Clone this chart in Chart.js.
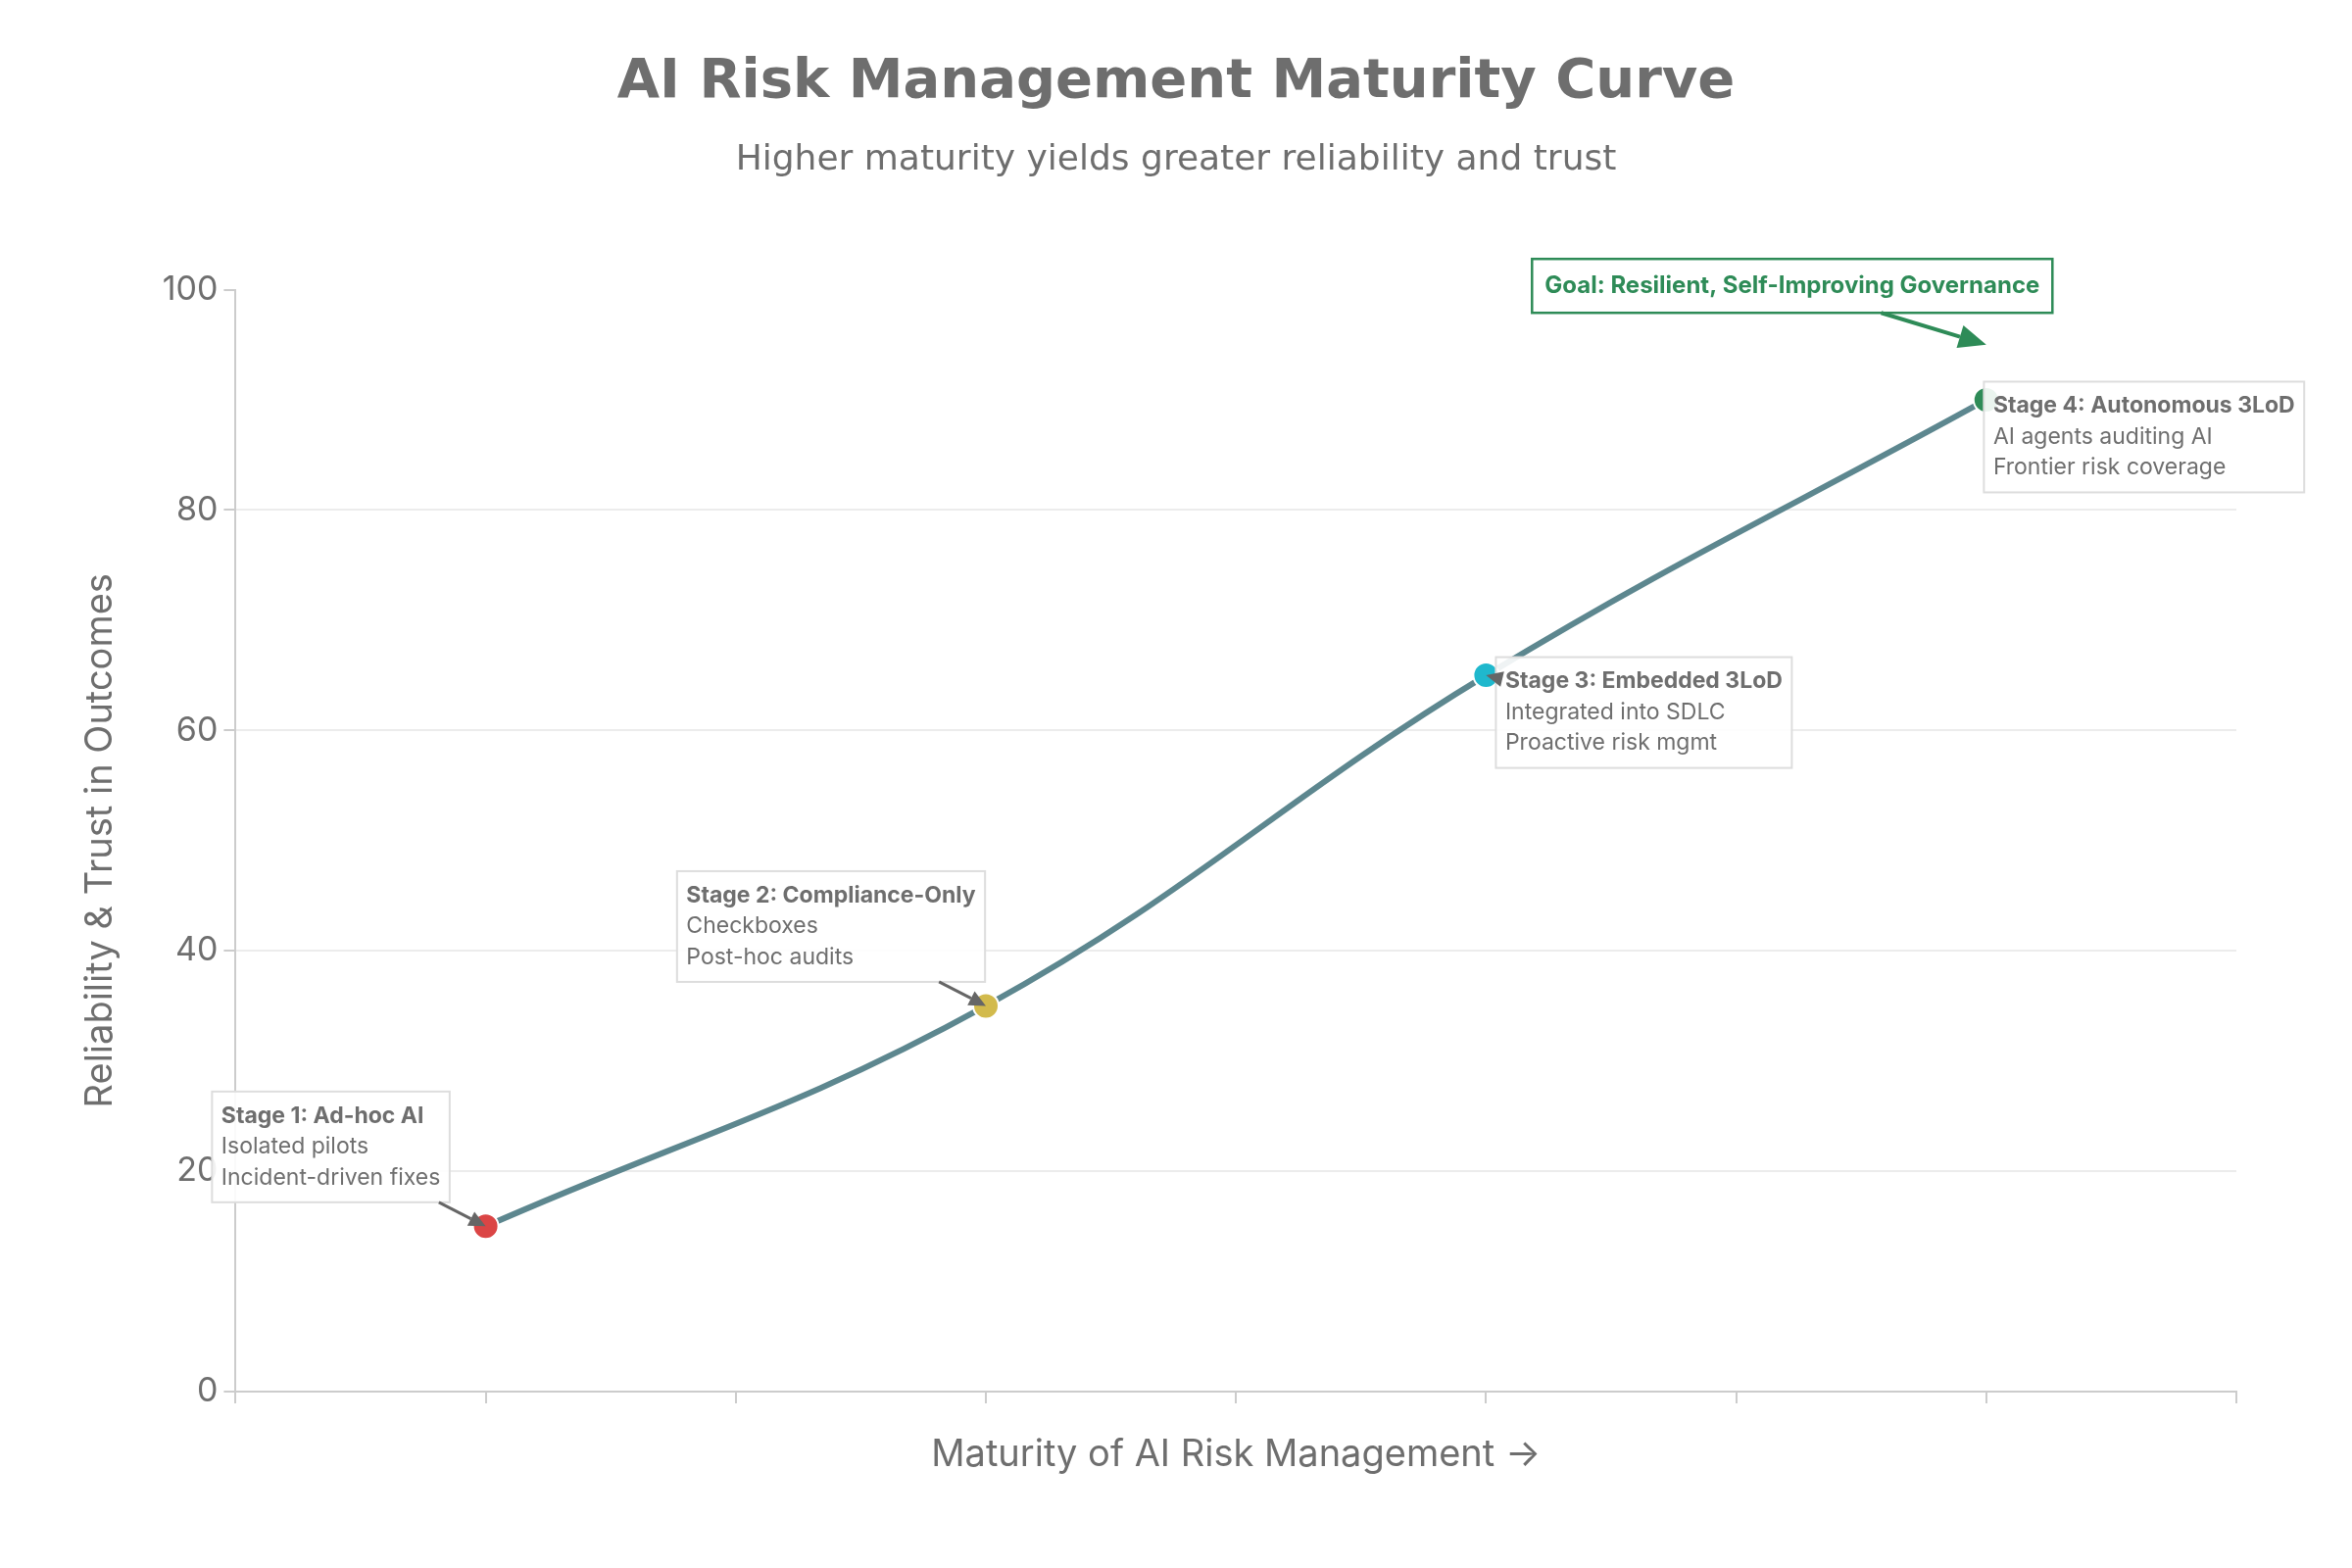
<!DOCTYPE html>
<html>
<head>
<meta charset="utf-8">
<title>AI Risk Management Maturity Curve</title>
<script src="https://cdn.jsdelivr.net/npm/chart.js@4.4.1/dist/chart.umd.min.js"></script>
<style>
    html, body { margin: 0; padding: 0; background: #ffffff; }
    #wrap { width: 2400px; height: 1600px; }
</style>
</head>
<body>
<div id="wrap"><canvas id="maturityChart" width="2400" height="1600"></canvas></div>
<script>
// DATA
const stageNames = ["Stage 1: Ad-hoc AI", "Stage 2: Compliance-Only", "Stage 3: Embedded 3LoD", "Stage 4: Autonomous 3LoD"];
const stageNotes = [
    ["Isolated pilots", "Incident-driven fixes"],
    ["Checkboxes", "Post-hoc audits"],
    ["Integrated into SDLC", "Proactive risk mgmt"],
    ["AI agents auditing AI", "Frontier risk coverage"]
];
const maturity = [1, 3, 5, 7];
const reliability = [15, 35, 65, 90];
const yTicks = [0, 20, 40, 60, 80, 100];
const goalLabel = "Goal: Resilient, Self-Improving Governance";
const goalTarget = [7, 95];

// STYLE
const TEXT = "#6e6e6e";
const FONT = "Inter";
const stageColors = ["#DB4545", "#D2BA4C", "#1FB8CD", "#2E8B57"];
const lineColor = "#5D878F";
const goalColor = "#2E8B57";
// label box centre relative to its point, in px
const labelOffsets = [[-158, -81], [-158, -81], [161, 38], [161, 38]];
const goalOffset = [-198, -60];

// ARROW FROM BOX EDGE TO TARGET
function drawArrow(ctx, cx, cy, hw, hh, tx, ty, color, lw, headLen, headHalf) {
    const dx = tx - cx, dy = ty - cy;
    if (Math.abs(dx) <= hw && Math.abs(dy) <= hh) return;
    const t = Math.min(hw / Math.max(Math.abs(dx), 1e-6), hh / Math.max(Math.abs(dy), 1e-6));
    const sx = cx + dx * t, sy = cy + dy * t;
    const len = Math.hypot(tx - sx, ty - sy);
    const ux = (tx - sx) / len, uy = (ty - sy) / len;
    const bx = tx - ux * headLen, by = ty - uy * headLen;

    ctx.strokeStyle = color;
    ctx.fillStyle = color;
    ctx.lineWidth = lw;
    if (len > headLen) {
        ctx.beginPath();
        ctx.moveTo(sx, sy);
        ctx.lineTo(bx, by);
        ctx.stroke();
    }
    ctx.beginPath();
    ctx.moveTo(tx, ty);
    ctx.lineTo(bx - uy * headHalf, by + ux * headHalf);
    ctx.lineTo(bx + uy * headHalf, by - ux * headHalf);
    ctx.closePath();
    ctx.fill();
}

// TITLES + ANNOTATIONS
const notesPlugin = {
    id: "stageNotes",
    afterDatasetsDraw(chart) {
        const { ctx, scales: { x, y } } = chart;
        ctx.save();

        maturity.forEach((mx, i) => {
            const px = x.getPixelForValue(mx);
            const py = y.getPixelForValue(reliability[i]);
            const lines = [stageNames[i], ...stageNotes[i]];

            ctx.font = `bold 23px ${FONT}`;
            let w = ctx.measureText(lines[0]).width;
            ctx.font = `23px ${FONT}`;
            lines.slice(1).forEach(t => { w = Math.max(w, ctx.measureText(t).width); });

            const bw = w + 19, bh = 113;
            const cx = px + labelOffsets[i][0], cy = py + labelOffsets[i][1];
            const left = cx - bw / 2, top = cy - bh / 2;

            ctx.fillStyle = "rgba(255,255,255,0.9)";
            ctx.fillRect(left, top, bw, bh);
            ctx.strokeStyle = "#dddddd";
            ctx.lineWidth = 2;
            ctx.strokeRect(left, top, bw, bh);

            drawArrow(ctx, cx, cy, bw / 2, bh / 2, px, py, "#666666", 3, 17, 8);

            ctx.textAlign = "left";
            ctx.textBaseline = "middle";
            ctx.fillStyle = TEXT;
            lines.forEach((t, k) => {
                ctx.font = (k === 0 ? "bold " : "") + `23px ${FONT}`;
                ctx.fillText(t, left + 9.5, cy + (k - 1) * 31.5);
            });
        });

        // goal callout
        const gx = x.getPixelForValue(goalTarget[0]);
        const gy = y.getPixelForValue(goalTarget[1]);
        ctx.font = `bold 24px ${FONT}`;
        const gw = ctx.measureText(goalLabel).width + 26, gh = 55;
        const gcx = gx + goalOffset[0], gcy = gy + goalOffset[1];
        ctx.fillStyle = "#ffffff";
        ctx.fillRect(gcx - gw / 2, gcy - gh / 2, gw, gh);
        ctx.strokeStyle = goalColor;
        ctx.lineWidth = 2.5;
        ctx.strokeRect(gcx - gw / 2, gcy - gh / 2, gw, gh);
        drawArrow(ctx, gcx, gcy, gw / 2, gh / 2, gx, gy, goalColor, 4, 28, 12);
        ctx.fillStyle = goalColor;
        ctx.textAlign = "center";
        ctx.textBaseline = "middle";
        ctx.fillText(goalLabel, gcx, gcy);

        ctx.restore();
    },
    afterDraw(chart) {
        const { ctx, width } = chart;
        ctx.save();
        ctx.fillStyle = TEXT;
        ctx.textAlign = "center";
        ctx.textBaseline = "middle";
        ctx.font = 'bold 56px "DejaVu Sans"';
        ctx.fillText("AI Risk Management Maturity Curve", width / 2, 84);
        ctx.font = '36px "DejaVu Sans"';
        ctx.fillText("Higher maturity yields greater reliability and trust", width / 2, 164);
        ctx.restore();
    }
};

// CHART
const chart = new Chart(document.getElementById("maturityChart"), {
    type: "line",
    data: {
        datasets: [{
            data: maturity.map((m, i) => ({ x: m, y: reliability[i] })),
            borderColor: lineColor,
            borderWidth: 6,
            tension: 0.4,
            pointRadius: 13,
            pointBorderWidth: 2,
            pointBorderColor: "#ffffff",
            pointBackgroundColor: stageColors,
            fill: false
        }]
    },
    options: {
        responsive: false,
        devicePixelRatio: 1,
        animation: false,
        events: [],
        layout: { padding: { top: 295.5, right: 118, bottom: 0, left: 0 } },
        plugins: {
            legend: { display: false },
            tooltip: { enabled: false }
        },
        scales: {
            x: {
                type: "linear",
                min: 0,
                max: 8,
                ticks: { stepSize: 1, display: false },
                grid: { drawOnChartArea: false, tickLength: 12, tickColor: "#cccccc", lineWidth: 2 },
                border: { color: "#cccccc", width: 2 },
                title: {
                    display: true,
                    text: "Maturity of AI Risk Management →",
                    color: TEXT,
                    font: { family: FONT, size: 38 },
                    padding: { top: 0, bottom: 92.2 }
                },
                afterFit: s => { s.height = 180; }
            },
            y: {
                min: 0,
                max: 100,
                afterBuildTicks: s => { s.ticks = yTicks.map(v => ({ value: v })); },
                ticks: { color: TEXT, font: { family: FONT, size: 34 }, padding: 6 },
                grid: {
                    color: c => (c.tick && (c.tick.value === 100 || c.tick.value === 0)) ? "rgba(0,0,0,0)" : "#ececec",
                    tickColor: "#cccccc",
                    tickLength: 12,
                    lineWidth: 2
                },
                border: { color: "#cccccc", width: 2 },
                title: {
                    display: true,
                    text: "Reliability & Trust in Outcomes",
                    color: TEXT,
                    font: { family: FONT, size: 38 },
                    padding: { top: 79.8, bottom: 0 }
                },
                afterFit: s => { s.width = 240.4; }
            }
        }
    },
    plugins: [notesPlugin]
});
</script>
</body>
</html>
